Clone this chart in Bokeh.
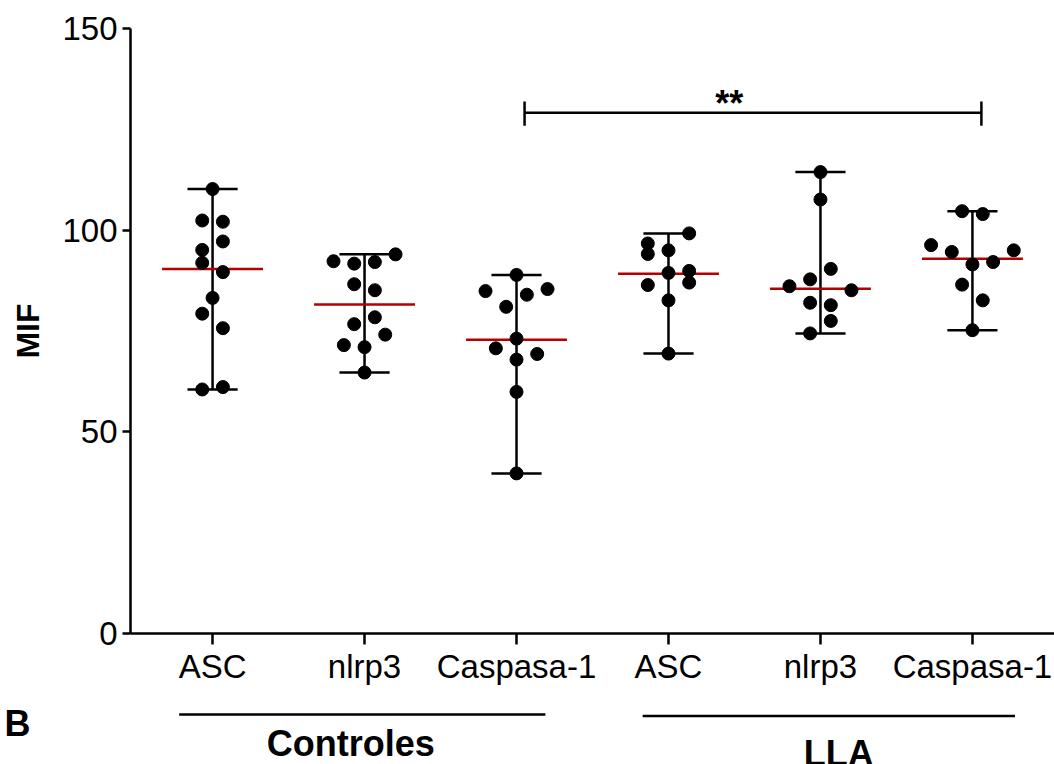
import numpy as np
from bokeh.plotting import figure
from bokeh.models import Range1d, FixedTicker
from bokeh.layouts import column
from bokeh.core.properties import value
from bokeh.embed import file_html
from bokeh.resources import INLINE

# ---------------- data ----------------
categories = ["ASC", "nlrp3", "Caspasa-1", "ASC", "nlrp3", "Caspasa-1"]
cohorts = ["Controles", "LLA"]
panel_letter = "B"

ctrl_asc = [110.2, 102.4, 102.1, 97.2, 95.1, 91.9, 89.6, 83.2, 79.3, 75.7, 60.5, 61.1]
ctrl_nlrp3 = [94.0, 92.3, 91.7, 92.1, 86.6, 85.1, 78.4, 76.7, 74.1, 71.5, 71.0, 64.7]
ctrl_casp1 = [88.9, 84.9, 85.4, 84.0, 81.0, 73.1, 70.7, 69.3, 67.9, 59.9, 39.7]
lla_asc = [99.2, 96.7, 94.1, 95.0, 89.4, 89.9, 87.0, 86.4, 82.6, 69.4]
lla_nlrp3 = [114.4, 107.6, 90.4, 87.8, 86.1, 85.1, 82.0, 81.4, 77.5, 74.4]
lla_casp1 = [104.7, 104.0, 96.3, 94.6, 95.0, 91.5, 92.1, 86.5, 82.6, 75.2]
medians = [90.4, 81.6, 72.8, 89.2, 85.5, 92.9]

y_ticks = [0, 50, 100, 150]
sig_from, sig_to, sig_label = 2, 5, "**"

series = [ctrl_asc, ctrl_nlrp3, ctrl_casp1, lla_asc, lla_nlrp3, lla_casp1]

# ---------------- layout (scatter slots, sizes) ----------------
slots = [
    [0, -1, 1, 1, -1, -1, 1, 0, -1, 1, -1, 1],
    [3, -3, -1, 1, -1, 1, 1, -1, 2, -2, 0, 0],
    [0, -3, 3, 1, -1, 0, -2, 2, 0, 0, 0],
    [2, -2, -2, 0, 0, 2, 2, -2, 0, 0],
    [0, 0, 1, -1, -3, 3, -1, 1, 1, -1],
    [-1, 1, -4, -2, 4, 0, 2, -1, 1, 0],
]
SLOT = 0.068
CAP = 0.165
MED = 0.332
LW = 2.5
FONT = "Liberation Sans"
W = 1054

xr = Range1d(-0.54, 5.54)
p = figure(width=W, height=698, x_range=xr, y_range=Range1d(0, 150),
           output_backend="svg", toolbar_location=None,
           min_border_left=130, min_border_right=0, min_border_top=28, min_border_bottom=65)
p.outline_line_color = None
p.grid.visible = False
p.background_fill_color = "white"

xa = p.xaxis[0]
xa.ticker = FixedTicker(ticks=list(range(len(categories))))
xa.major_label_overrides = {i: c for i, c in enumerate(categories)}
xa.axis_line_width = LW
xa.major_tick_line_width = LW
xa.major_tick_out = 11
xa.major_tick_in = 0
xa.minor_tick_line_color = None
xa.major_label_text_font = FONT
xa.major_label_text_font_size = "33px"
xa.major_label_text_color = "black"
xa.major_label_standoff = 3

ya = p.yaxis[0]
ya.ticker = FixedTicker(ticks=y_ticks)
ya.axis_line_width = LW
ya.major_tick_line_width = LW
ya.major_tick_out = 8
ya.major_tick_in = 0
ya.minor_tick_line_color = None
ya.major_label_text_font = FONT
ya.major_label_text_font_size = "33px"
ya.major_label_text_color = "black"
ya.major_label_standoff = 5
ya.axis_label = "MIF"
ya.axis_label_text_font = FONT
ya.axis_label_text_font_style = "bold"
ya.axis_label_text_font_size = "32px"
ya.axis_label_text_color = "black"
ya.axis_label_standoff = 13

pos = np.arange(len(series), dtype=float)
lo = [min(s) for s in series]
hi = [max(s) for s in series]

# range whiskers
p.segment(x0=pos, y0=lo, x1=pos, y1=hi, line_color="black", line_width=LW)
p.segment(x0=pos - CAP, y0=lo, x1=pos + CAP, y1=lo, line_color="black", line_width=LW)
p.segment(x0=pos - CAP, y0=hi, x1=pos + CAP, y1=hi, line_color="black", line_width=LW)
# medians
p.segment(x0=pos - MED, y0=medians, x1=pos + MED, y1=medians, line_color="#B40000", line_width=LW)

# points
xs, ys = [], []
for i, (s, sl) in enumerate(zip(series, slots)):
    for v, k in zip(s, sl):
        xs.append(i + k * SLOT)
        ys.append(v)
p.scatter(xs, ys, size=13, color="black")

# significance bracket
bx0, bx1 = sig_from + 0.053, sig_to + 0.059
by, leg_lo, leg_hi = 129.1, 125.9, 131.9
p.segment(x0=[bx0], y0=[by], x1=[bx1], y1=[by], line_color="black", line_width=LW)
p.segment(x0=[bx0, bx1], y0=[leg_lo, leg_lo], x1=[bx0, bx1], y1=[leg_hi, leg_hi],
          line_color="black", line_width=LW)
p.text(x=[3.40], y=[131.5], text=[sig_label], text_align="center", text_baseline="alphabetic",
       text_font=value(FONT), text_font_style="bold", text_font_size="36px", text_color="black")

# ---------------- cohort labels below ----------------
p2 = figure(width=W, height=66, x_range=xr, y_range=Range1d(-32.48, -16.12),
            output_backend="svg", toolbar_location=None,
            x_axis_location=None, y_axis_location="left", min_border=0,
            min_border_left=130, min_border_right=0)
p2.outline_line_color = None
p2.grid.visible = False

# panel letter shown as the only tick label of an otherwise invisible axis
ya2 = p2.yaxis[0]
letter_y = -32.4
ya2.ticker = FixedTicker(ticks=[letter_y])
ya2.major_label_overrides = {letter_y: panel_letter}
ya2.axis_line_color = None
ya2.major_tick_line_color = None
ya2.minor_tick_line_color = None
ya2.major_tick_out = 0
ya2.major_tick_in = 0
ya2.major_label_standoff = 100
ya2.major_label_text_font = FONT
ya2.major_label_text_font_style = "bold"
ya2.major_label_text_font_size = "36px"
ya2.major_label_text_color = "black"

p2.segment(x0=[-0.22, 2.83], y0=[-20.08, -20.46], x1=[2.19, 5.28], y1=[-20.08, -20.46],
           line_color="black", line_width=LW)
p2.text(x=[0.91, 4.12], y=[-27.27, -29.75], text=cohorts, text_align="center",
        text_baseline="alphabetic", text_font=value(FONT), text_font_style="bold",
        text_font_size="36px", text_color="black")

layout = column(p, p2)
open("out.html", "w").write(file_html(layout, INLINE))
